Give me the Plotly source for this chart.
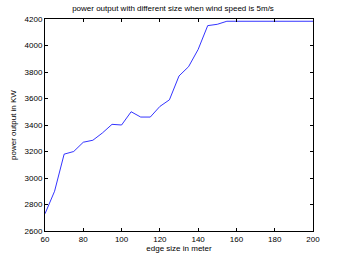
import plotly.graph_objects as go

edge_size = [60, 65, 70, 75, 80, 85, 90, 95, 100, 105, 110, 115, 120, 125, 130, 135, 140, 145, 150, 155,
             160, 165, 170, 175, 180, 185, 190, 195, 200]
power_kw = [2730, 2900, 3180, 3200, 3270, 3285, 3340, 3405, 3400, 3500, 3460, 3460, 3540, 3590, 3770, 3840,
            3970, 4150, 4160, 4183, 4183, 4183, 4183, 4183, 4183, 4183, 4183, 4183, 4183]

title_text = "power output with different size when wind speed is 5m/s"
x_label = "edge size in meter"
y_label = "power output in KW"

font = dict(family="Liberation Sans, Arial, sans-serif", size=8, color="black")

fig = go.Figure()
fig.add_trace(go.Scatter(x=edge_size, y=power_kw, mode="lines",
                         line=dict(color="#0000ff", width=0.8), showlegend=False))

axis_common = dict(showgrid=False, zeroline=False, showline=True, linecolor="black", linewidth=1,
                   mirror="ticks", ticks="inside", ticklen=3, tickcolor="black", tickfont=font,
                   automargin=False)

fig.update_layout(
    width=346, height=260,
    margin=dict(l=45, r=33, t=19, b=29),
    paper_bgcolor="white", plot_bgcolor="white",
    font=font,
    title=dict(text=title_text, x=0.5, xanchor="center", y=0.97, yanchor="middle",
               font=dict(family="Liberation Sans, Arial, sans-serif", size=8, color="black")),
    xaxis=dict(range=[60, 200], tickvals=[60, 80, 100, 120, 140, 160, 180, 200],
               title=dict(text=x_label, standoff=1, font=font), **axis_common),
    yaxis=dict(range=[2600, 4200], tickvals=list(range(2600, 4201, 200)),
               title=dict(text=y_label, standoff=6, font=font), **axis_common),
)

fig.write_html("out.html",
               config={"displayModeBar": False, "staticPlot": True},
               post_script="document.body.style.margin='0';document.body.style.overflow='hidden';")
